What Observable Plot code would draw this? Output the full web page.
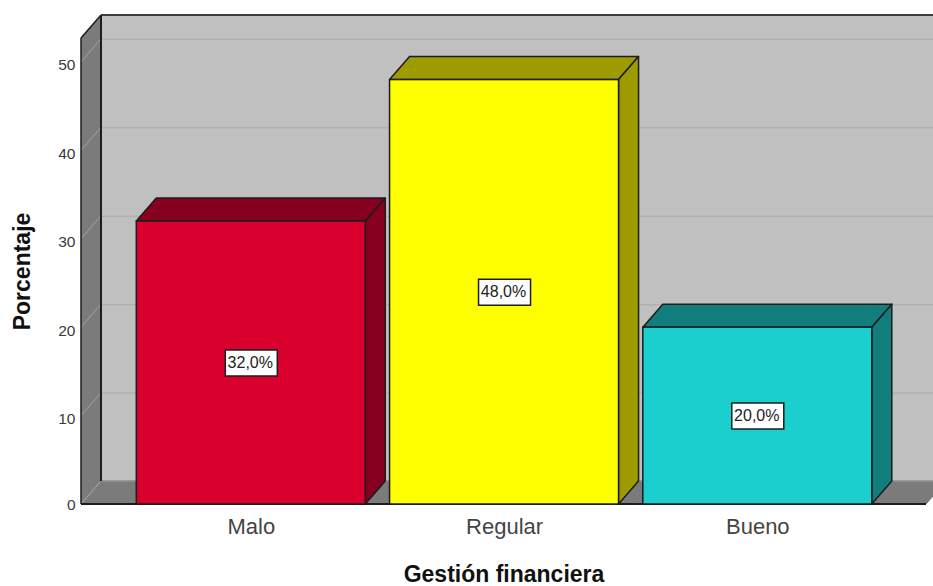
<!DOCTYPE html>
<html>
<head>
<meta charset="utf-8">
<style>
  html, body { margin: 0; padding: 0; background: #fff; overflow: hidden; }
  svg { display: block; overflow: hidden; }
</style>
<script src="https://cdn.jsdelivr.net/npm/d3@7"></script>
<script src="https://cdn.jsdelivr.net/npm/@observablehq/plot@0.6"></script>
</head>
<body>
<div id="chart"></div>
<script>
// Frequency chart of "Gestión financiera"
const categories = ["Malo", "Regular", "Bueno"];
const percentages = [32, 48, 20];
const percentLabels = ["32,0%", "48,0%", "20,0%"];
const faceColors = ["#d9002e", "#ffff00", "#1bcfcf"];
const shadeColors = ["#860020", "#9e9b00", "#127d7d"];
const yTicks = [0, 10, 20, 30, 40, 50];

const rows = categories.map((category, i) => ({
  category,
  pct: percentages[i],
  label: percentLabels[i],
  face: faceColors[i],
  shade: shadeColors[i]
}));

// Oblique projection offset used by the walls and the bar prisms
const depthX = 20;
const depthY = -23;
const yMax = 52.7;
const outline = "#1c1c1c";
const wallColor = "#c0c0c0";
const sideColor = "#7b7b7b";
const gridColor = "#b0b0b0";

function polygon(points, fill, stroke, strokeWidth) {
  const p = document.createElementNS("http://www.w3.org/2000/svg", "path");
  p.setAttribute("d", "M" + points.map(q => q.join(",")).join("L") + "Z");
  p.setAttribute("fill", fill);
  p.setAttribute("stroke", stroke || "none");
  if (strokeWidth) p.setAttribute("stroke-width", strokeWidth);
  p.setAttribute("stroke-linejoin", "round");
  return p;
}

function segment(x1, y1, x2, y2, stroke, strokeWidth) {
  const l = document.createElementNS("http://www.w3.org/2000/svg", "line");
  for (const [k, v] of Object.entries({x1, y1, x2, y2, stroke, "stroke-width": strokeWidth})) l.setAttribute(k, v);
  return l;
}

function group(children) {
  const g = document.createElementNS("http://www.w3.org/2000/svg", "g");
  children.forEach(c => g.appendChild(c));
  return g;
}

// Back wall, left wall and floor of the chart box
function chartBox(index, scales, values, dims) {
  const x0 = dims.marginLeft;
  const x1 = dims.width - dims.marginRight;
  const y0 = scales.y(0);
  const yTop = scales.y(yMax);
  return group([
    polygon([[x0 + depthX, yTop + depthY], [x1 + depthX, yTop + depthY], [x1 + depthX, y0 + depthY], [x0 + depthX, y0 + depthY]], wallColor),
    polygon([[x0, yTop], [x0 + depthX, yTop + depthY], [x0 + depthX, y0 + depthY], [x0, y0]], sideColor),
    polygon([[x0, y0], [x0 + depthX, y0 + depthY], [x1 + depthX, y0 + depthY], [x1, y0]], sideColor)
  ]);
}

// Diagonal grid segments crossing the left wall
function wallGrid(index, scales, values, dims) {
  const x0 = dims.marginLeft;
  return group(yTicks.map(t => segment(x0, scales.y(t), x0 + depthX, scales.y(t) + depthY, "#a3a3a3", 1)));
}

// Dark edges of the box, drawn above the grid
function boxEdges(index, scales, values, dims) {
  const x0 = dims.marginLeft;
  const x1 = dims.width - dims.marginRight;
  const y0 = scales.y(0);
  const yTop = scales.y(yMax);
  return group([
    segment(x0 + depthX, y0 + depthY, x1 + depthX, y0 + depthY, "#8f8f8f", 1.5),
    segment(x0 + depthX, yTop + depthY, x0 + depthX, y0 + depthY, outline, 2),
    segment(x0 + depthX, yTop + depthY, x1 + depthX, yTop + depthY, "#3c3c3c", 2),
    segment(x0, yTop, x0 + depthX, yTop + depthY, outline, 1.5),
    segment(x0, yTop, x0, y0, outline, 1.5),
    segment(x0, y0, x1, y0, outline, 2),
    segment(x1, y0, x1 + depthX, y0 + depthY, "#6a6a6a", 1)
  ]);
}

// Top and side faces of each bar
function barPrisms(index, scales) {
  const b = scales.x.bandwidth;
  const w = typeof b === "function" ? b() : b;
  return group(rows.flatMap(r => {
    const left = scales.x(r.category);
    const right = left + w;
    const top = scales.y(r.pct);
    const base = scales.y(0);
    return [
      polygon([[left, top], [left + depthX, top + depthY], [right + depthX, top + depthY], [right, top]], r.shade, outline, 1.5),
      polygon([[right, top], [right + depthX, top + depthY], [right + depthX, base + depthY], [right, base]], r.shade, outline, 1.5)
    ];
  }));
}

// Rectangular backing for the value labels
const labelBox = { draw(context) { context.rect(-26, -13, 52, 26); } };

const chart = Plot.plot({
  width: 933,
  height: 586,
  marginLeft: 81,
  marginRight: 7,
  marginTop: 38,
  marginBottom: 82,
  style: { background: "#fff", fontFamily: "'Liberation Sans', Arial, sans-serif" },
  x: { domain: categories, paddingInner: 0.0958, paddingOuter: 0.2162, align: 0.505, round: false, label: null },
  y: { domain: [0, yMax], label: null },
  marks: [
    chartBox,
    Plot.ruleY(yTicks.slice(1), { stroke: gridColor, strokeWidth: 1.5, dx: depthX, dy: depthY }),
    wallGrid,
    boxEdges,
    barPrisms,
    Plot.barY(rows, { x: "category", y: "pct", fill: "face", stroke: outline, strokeWidth: 1.5 }),
    Plot.axisY({ ticks: yTicks.slice(1), tickSize: 0, tickPadding: 6, fontSize: 15.5, color: "#3a3a3a", label: null, dy: 3 }),
    Plot.axisY({ ticks: yTicks.slice(0, 1), tickSize: 0, tickPadding: 6, fontSize: 15.5, color: "#3a3a3a", label: null, dy: 1 }),
    Plot.axisX({ tickSize: 0, tickPadding: 14, fontSize: 22, color: "#444", label: null }),
    Plot.dot(rows, { x: "category", y: d => d.pct / 2, symbol: labelBox, fill: "#fff", stroke: outline, strokeWidth: 1.5, r: 10 }),
    Plot.text(rows, { x: "category", y: d => d.pct / 2, text: "label", fontSize: 16, fill: "#222", dx: -1 }),
    Plot.text(["Gestión financiera"], { frameAnchor: "bottom", textAnchor: "middle", dy: 77, fontSize: 23, fontWeight: "bold", fill: "#111" }),
    Plot.text(["Porcentaje"], { frameAnchor: "left", textAnchor: "middle", dx: -59, rotate: -90, fontSize: 23, fontWeight: "bold", fill: "#111" })
  ]
});

document.getElementById("chart").appendChild(chart);
</script>
</body>
</html>
